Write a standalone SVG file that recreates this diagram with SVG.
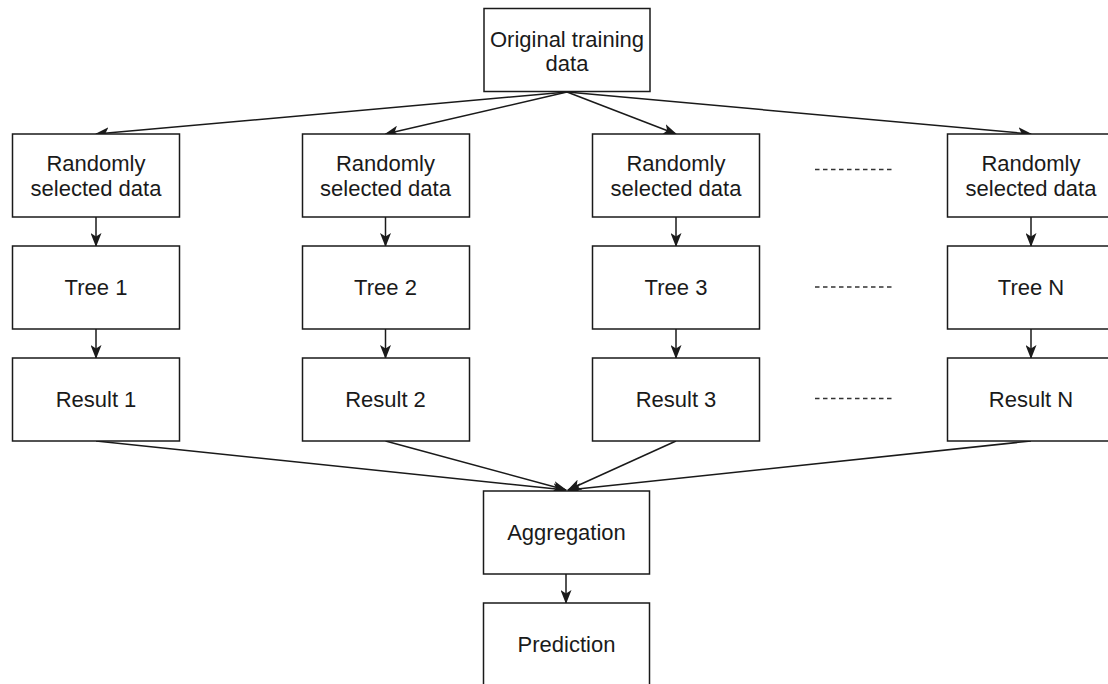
<svg xmlns="http://www.w3.org/2000/svg" width="1108" height="684" viewBox="0 0 1108 684">
  <style>
    .box { fill: #ffffff; stroke: #1a1a1a; stroke-width: 1.5; }
    .lbl { font-family: "Liberation Sans", Arial, sans-serif; font-size: 22px; fill: #1a1a1a; text-anchor: middle; }
    .edge { fill: none; stroke: #1a1a1a; stroke-width: 1.5; marker-end: url(#arrow); }
    .dots { fill: none; stroke: #333333; stroke-width: 1.5; stroke-dasharray: 4.5 3.5; }
  </style>
  <defs>
    <marker id="arrow" viewBox="0 0 14 11" refX="13" refY="5.5" markerWidth="14" markerHeight="11" markerUnits="userSpaceOnUse" orient="auto">
      <path d="M0,0 L14,5.5 L0,11 L3.5,5.5 Z" fill="#1a1a1a"/>
    </marker>
  </defs>
  <rect width="1108" height="684" fill="#ffffff"/>

  <!-- connectors -->
  <g id="connectors">
    <!-- fan-out from training data -->
    <path class="edge" d="M567,92 L96,134"/>
    <path class="edge" d="M567,92 L385.5,134"/>
    <path class="edge" d="M567,92 L676,134"/>
    <path class="edge" d="M567,92 L1031,134"/>
    <!-- column chains -->
    <path class="edge" d="M96,217 L96,246"/>
    <path class="edge" d="M96,329 L96,358"/>
    <path class="edge" d="M385.5,217 L385.5,246"/>
    <path class="edge" d="M385.5,329 L385.5,358"/>
    <path class="edge" d="M676,217 L676,246"/>
    <path class="edge" d="M676,329 L676,358"/>
    <path class="edge" d="M1031,217 L1031,246"/>
    <path class="edge" d="M1031,329 L1031,358"/>
    <!-- fan-in to aggregation -->
    <path class="edge" d="M96,441 L566,490"/>
    <path class="edge" d="M385.5,441 L566,490"/>
    <path class="edge" d="M676,441 L568,490"/>
    <path class="edge" d="M1031,441 L568,490"/>
    <path class="edge" d="M566,574 L566,603"/>
    <!-- ellipsis between columns -->
    <path class="dots" d="M815,169.5 L892,169.5"/>
    <path class="dots" d="M815,287 L892,287"/>
    <path class="dots" d="M815,398.5 L892,398.5"/>
  </g>

  <g id="original">
    <rect class="box" x="484" y="8.5" width="166" height="83"/>
    <text class="lbl" x="567" y="46.5">Original training</text>
    <text class="lbl" x="567" y="71">data</text>
  </g>

  <g id="sample1">
    <rect class="box" x="12.5" y="134" width="167" height="83"/>
    <text class="lbl" x="96" y="171">Randomly</text>
    <text class="lbl" x="96" y="196">selected data</text>
  </g>
  <g id="sample2">
    <rect class="box" x="302.5" y="134" width="167" height="83"/>
    <text class="lbl" x="385.5" y="171">Randomly</text>
    <text class="lbl" x="385.5" y="196">selected data</text>
  </g>
  <g id="sample3">
    <rect class="box" x="592.5" y="134" width="167" height="83"/>
    <text class="lbl" x="676" y="171">Randomly</text>
    <text class="lbl" x="676" y="196">selected data</text>
  </g>
  <g id="sampleN">
    <rect class="box" x="947.5" y="134" width="167" height="83"/>
    <text class="lbl" x="1031" y="171">Randomly</text>
    <text class="lbl" x="1031" y="196">selected data</text>
  </g>

  <g id="tree1">
    <rect class="box" x="12.5" y="246" width="167" height="83"/>
    <text class="lbl" x="96" y="295">Tree 1</text>
  </g>
  <g id="tree2">
    <rect class="box" x="302.5" y="246" width="167" height="83"/>
    <text class="lbl" x="385.5" y="295">Tree 2</text>
  </g>
  <g id="tree3">
    <rect class="box" x="592.5" y="246" width="167" height="83"/>
    <text class="lbl" x="676" y="295">Tree 3</text>
  </g>
  <g id="treeN">
    <rect class="box" x="947.5" y="246" width="167" height="83"/>
    <text class="lbl" x="1031" y="295">Tree N</text>
  </g>

  <g id="result1">
    <rect class="box" x="12.5" y="358" width="167" height="83"/>
    <text class="lbl" x="96" y="407">Result 1</text>
  </g>
  <g id="result2">
    <rect class="box" x="302.5" y="358" width="167" height="83"/>
    <text class="lbl" x="385.5" y="407">Result 2</text>
  </g>
  <g id="result3">
    <rect class="box" x="592.5" y="358" width="167" height="83"/>
    <text class="lbl" x="676" y="407">Result 3</text>
  </g>
  <g id="resultN">
    <rect class="box" x="947.5" y="358" width="167" height="83"/>
    <text class="lbl" x="1031" y="407">Result N</text>
  </g>

  <g id="aggregation">
    <rect class="box" x="483.5" y="491" width="166" height="83"/>
    <text class="lbl" x="566.5" y="540">Aggregation</text>
  </g>
  <g id="prediction">
    <rect class="box" x="483.5" y="603" width="166" height="83"/>
    <text class="lbl" x="566.5" y="652">Prediction</text>
  </g>
</svg>
